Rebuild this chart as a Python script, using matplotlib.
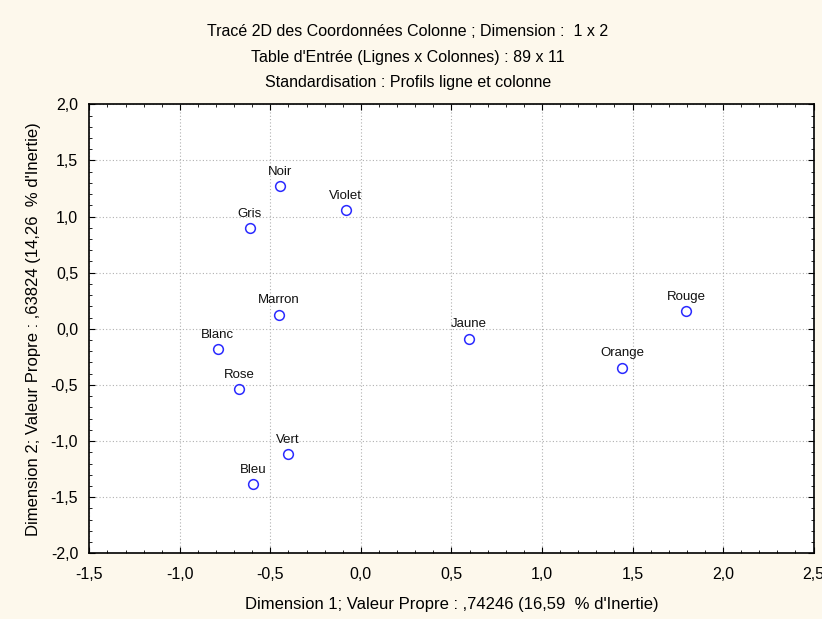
import matplotlib.pyplot as plt
from matplotlib.ticker import MultipleLocator, FuncFormatter

# coordonnées colonne (dimension 1 x 2)
noms = ['Noir', 'Violet', 'Gris', 'Marron', 'Blanc', 'Rose',
        'Jaune', 'Orange', 'Rouge', 'Vert', 'Bleu']
dim1 = [-0.445, -0.083, -0.614, -0.454, -0.790, -0.671,
        0.597, 1.442, 1.796, -0.405, -0.596]
dim2 = [1.273, 1.055, 0.900, 0.127, -0.180, -0.535,
        -0.087, -0.345, 0.157, -1.117, -1.384]

titres = ["Tracé 2D des Coordonnées Colonne ; Dimension :  1 x 2",
          "Table d'Entrée (Lignes x Colonnes) : 89 x 11",
          "Standardisation : Profils ligne et colonne"]
xlabel = "Dimension 1; Valeur Propre : ,74246 (16,59  % d'Inertie)"
ylabel = "Dimension 2; Valeur Propre : ,63824 (14,26  % d'Inertie)"

plt.rcParams['font.family'] = ['Liberation Sans', 'DejaVu Sans']
fond = '#fdf8ec'

fig = plt.figure(figsize=(8.22, 6.19), dpi=100, facecolor=fond)
ax = fig.add_axes([89.3 / 822, 1 - 553.3 / 619, (813.6 - 89.3) / 822, (553.3 - 104.3) / 619])
ax.set_facecolor('white')

ax.plot(dim1, dim2, 'o', mfc='none', mec='#2b2bff', mew=1.1, ms=7, zorder=3)
for n, x, y in zip(noms, dim1, dim2):
    ax.annotate(n, (x, y), xytext=(0, 8), textcoords='offset points',
                ha='center', va='baseline', fontsize=9.5, color='#111111')

ax.set_xlim(-1.5, 2.5)
ax.set_ylim(-2.0, 2.0)
ax.xaxis.set_major_locator(MultipleLocator(0.5))
ax.yaxis.set_major_locator(MultipleLocator(0.5))
ax.xaxis.set_minor_locator(MultipleLocator(0.1))
ax.yaxis.set_minor_locator(MultipleLocator(0.1))
fmt = FuncFormatter(lambda v, p: f"{v:.1f}".replace('.', ','))
ax.xaxis.set_major_formatter(fmt)
ax.yaxis.set_major_formatter(fmt)
ax.tick_params(which='both', direction='in', top=True, right=True, labelsize=11.5)
ax.tick_params(axis='x', pad=10)
ax.tick_params(axis='y', pad=8)
ax.tick_params(which='major', length=4)
ax.tick_params(which='minor', length=2.5)
ax.grid(True, which='major', linestyle=(0, (1, 2)), color='#b0b0b0', linewidth=0.8)
for s in ax.spines.values():
    s.set_linewidth(1.2)

ax.set_xlabel(xlabel, fontsize=12, labelpad=11)
ax.set_ylabel(ylabel, fontsize=12, labelpad=7)

for i, t in enumerate(titres):
    fig.text(408 / 822, 1 - (32 + 25.5 * i) / 619, t, ha='center', va='center', fontsize=11.5)

fig.savefig('out.png', dpi=100, facecolor=fond)
